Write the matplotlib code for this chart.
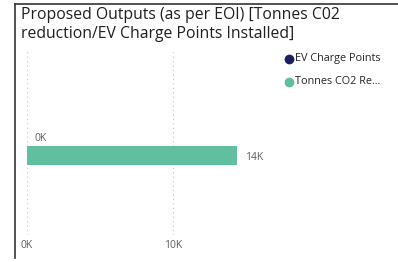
import matplotlib.pyplot as plt
from matplotlib.lines import Line2D

# === DATA ===
series = ['EV Charge Points', 'Tonnes CO2 Re...']
values = [0, 14400]
value_labels = ['0K', '14K']
colors = ['#1b1f5c', '#5fbf9f']
x_ticks = [0, 10000]
x_tick_labels = ['0K', '10K']

W, H = 398, 262
fig = plt.figure(figsize=(W / 100, H / 100), dpi=100)
fig.patch.set_facecolor('white')

# card border (left + top)
fig.add_artist(Line2D([14.5 / W, 14.5 / W], [1 - 3.5 / H, 1 - 258 / H], color='#333333', lw=1.2))
fig.add_artist(Line2D([14.5 / W, 1], [1 - 3.5 / H, 1 - 3.5 / H], color='#333333', lw=1.2))

# === TITLE ===
title_kw = dict(fontsize=11.3, color='#201f1e', va='center', ha='left', family='Open Sans')
fig.text(21 / W, 1 - 15 / H, 'Proposed Outputs (as per EOI) [Tonnes C02', **title_kw)
fig.text(21 / W, 1 - 34 / H, 'reduction/EV Charge Points Installed]', **title_kw)

# === BARS ===
ax = fig.add_axes([27 / W, 1 - 235 / H, 292 / W, 185 / H])
bar_pos = [0.5, -0.5]
ax.barh(bar_pos, values, height=1.0, color=colors)
ax.set_xlim(0, 20000)
ax.set_ylim(-4.6, 4.95)
for pos, v, lab in zip(bar_pos, values, value_labels):
    ax.text(v + 500, pos - 0.12, lab, fontsize=7.5, color='#605e5c',
            va='center', ha='left', family='Open Sans')

for t in x_ticks:
    ax.axvline(t, color='#c8c6c4', lw=0.8, ls=(0, (1, 3)), zorder=0)
ax.set_xticks([])
ax.set_yticks([])
for s in ax.spines.values():
    s.set_visible(False)
ax.patch.set_alpha(0)

for t, lab in zip(x_ticks, x_tick_labels):
    fig.text((27 + t / 20000 * 292) / W, 1 - 246 / H, lab, fontsize=7.5, color='#605e5c',
             va='center', ha='center', family='Open Sans')

# === LEGEND ===
for i, (name, c) in enumerate(zip(series, colors)):
    y = 1 - (59 + i * 23) / H
    fig.add_artist(Line2D([289 / W], [y], marker='o', ms=6, color=c, lw=0))
    fig.text(295 / W, y, name, fontsize=7.8, color='#252423', va='center', ha='left',
             family='Open Sans')

fig.savefig('out.png', dpi=100)
